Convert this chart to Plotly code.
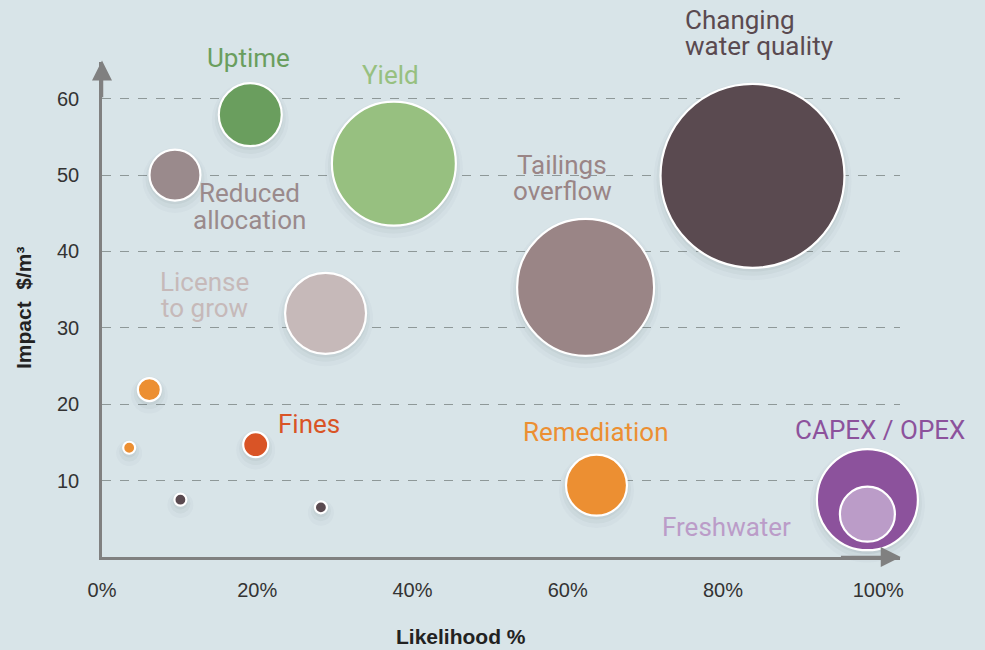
import plotly.graph_objects as go

# ---- data ----
names = ["Uptime", "Reduced allocation", "Yield", "License to grow",
         "Tailings overflow", "Changing water quality", "Remediation",
         "CAPEX / OPEX", "Freshwater", "Fines",
         "orange A", "orange B", "dark A", "dark B"]
likelihood = [19.1, 9.4, 37.6, 28.8, 62.3, 83.8, 63.7, 98.6, 98.6, 19.8, 6.1, 3.5, 10.1, 28.2]
impact = [57.9, 50.0, 51.5, 31.9, 35.3, 49.9, 9.4, 7.5, 5.6, 14.7, 21.9, 14.3, 7.5, 6.5]
magnitude = [63, 51, 124, 81, 137, 184, 61, 101, 55, 25, 23, 12, 12, 12]
colors = ["#6a9e5e", "#9a8a8c", "#97c080", "#c6b9b9", "#9a8586", "#5a4a50",
          "#ec8f32", "#8c529c", "#bb9cc8", "#d95426", "#ec8f32", "#ec8f32",
          "#5a4a50", "#5a4a50"]

# labels: text lines, anchor position (data units), colour
label_lines = [["Uptime"], ["Reduced", "allocation"], ["Yield"], ["License", "to grow"],
               ["Tailings", "overflow"], ["Changing", "water quality"], ["Remediation"],
               ["CAPEX / OPEX"], ["Freshwater"], ["Fines"]]
label_x = [18.9, 19.0, 37.2, 13.2, 59.3, 74.8, 63.6, 100.2, 80.4, 26.7]
label_y = [65.3, 45.9, 63.1, 34.3, 49.6, 68.6, 16.4, 16.6, 3.9, 17.4]
label_anchor = ["center"] * 5 + ["left"] + ["center"] * 4

x_ticks = [0, 20, 40, 60, 80, 100]
x_tick_text = ["0%", "20%", "40%", "60%", "80%", "100%"]
y_ticks = [10, 20, 30, 40, 50, 60]

X_RANGE = [0, 102.8]
Y_RANGE = [0, 64.8]

BG = "#d8e4e8"
AXIS = "#808080"
LABEL_FONT = "Roboto"
TICK_FONT = "Liberation Sans"

fig = go.Figure()

# soft shadows
for grow, alpha, dy in [(14, 0.035, -0.7), (8, 0.05, -0.5), (3, 0.07, -0.3)]:
    fig.add_trace(go.Scatter(
        x=likelihood, y=[v + dy for v in impact], mode="markers",
        marker=dict(size=[m + grow for m in magnitude], sizemode="diameter",
                    color=f"rgba(40,60,70,{alpha})", line=dict(width=0)),
        hoverinfo="skip", cliponaxis=False, showlegend=False))

fig.add_trace(go.Scatter(
    x=likelihood, y=impact, mode="markers", text=names,
    marker=dict(size=magnitude, sizemode="diameter", color=colors, opacity=1,
                line=dict(color="white", width=2.2)),
    hovertemplate="%{text}<br>%{x}%<br>%{y}<extra></extra>",
    cliponaxis=False, showlegend=False))


def to_paper(v, rng):
    return (v - rng[0]) / (rng[1] - rng[0])


annotations = []
line_gap = 26.5
for lines, lx, ly, anc, col in zip(label_lines, label_x, label_y, label_anchor, colors):
    n = len(lines)
    for i, t in enumerate(lines):
        shift = ((n - 1) / 2 - i) * line_gap
        annotations.append(dict(x=to_paper(lx, X_RANGE), y=to_paper(ly, Y_RANGE),
                                xref="paper", yref="paper", text=t, showarrow=False,
                                xanchor=anc, yanchor="middle", yshift=shift,
                                font=dict(family=LABEL_FONT, size=26, color=col)))

# axis arrows
annotations.append(dict(x=0, y=65, ax=0, ay=60, xref="x", yref="y", axref="x", ayref="y",
                        text="", showarrow=True, arrowhead=2, arrowsize=1.6,
                        arrowwidth=2.5, arrowcolor=AXIS))
annotations.append(dict(x=102.9, y=0, ax=95, ay=0, xref="x", yref="y", axref="x", ayref="y",
                        text="", showarrow=True, arrowhead=2, arrowsize=1.6,
                        arrowwidth=2.5, arrowcolor=AXIS))

# axis titles (paper coords derived from plot area: x 102..900 px, y 557..62 px)
annotations.append(dict(x=(461 - 102) / (900 - 102), y=(557 - 636) / (557 - 62),
                        xref="paper", yref="paper", text="<b>Likelihood %</b>",
                        xanchor="center", yanchor="middle",
                        showarrow=False, font=dict(family=TICK_FONT, size=21, color="#222")))
annotations.append(dict(x=(23 - 102) / (900 - 102), y=(557 - 308) / (557 - 62),
                        xref="paper", yref="paper", text="<b>Impact  $/m³</b>",
                        xanchor="center", yanchor="middle",
                        showarrow=False, textangle=-90,
                        font=dict(family=TICK_FONT, size=21, color="#222")))

fig.update_layout(
    width=985, height=650,
    margin=dict(l=102, r=85, t=62, b=93),
    paper_bgcolor=BG, plot_bgcolor=BG,
    font=dict(family=TICK_FONT, color="#333"),
    annotations=annotations,
    xaxis=dict(range=X_RANGE, tickvals=x_ticks, ticktext=x_tick_text,
               showgrid=False, zeroline=False, showline=True, linecolor=AXIS, linewidth=2.5,
               ticks="", ticklabelstandoff=13, tickfont=dict(size=20, color="#333")),
    yaxis=dict(range=Y_RANGE, tickvals=y_ticks, showgrid=True, gridcolor="#8e9898",
               griddash="dash", gridwidth=1, zeroline=False, showline=True,
               linecolor=AXIS, linewidth=2.5, ticks="", ticklabelstandoff=16,
               tickfont=dict(size=20, color="#333")),
)

fig.write_html("out.html", config={"displayModeBar": False},
               post_script="document.body.style.margin='0';document.body.style.background='" + BG + "';")
